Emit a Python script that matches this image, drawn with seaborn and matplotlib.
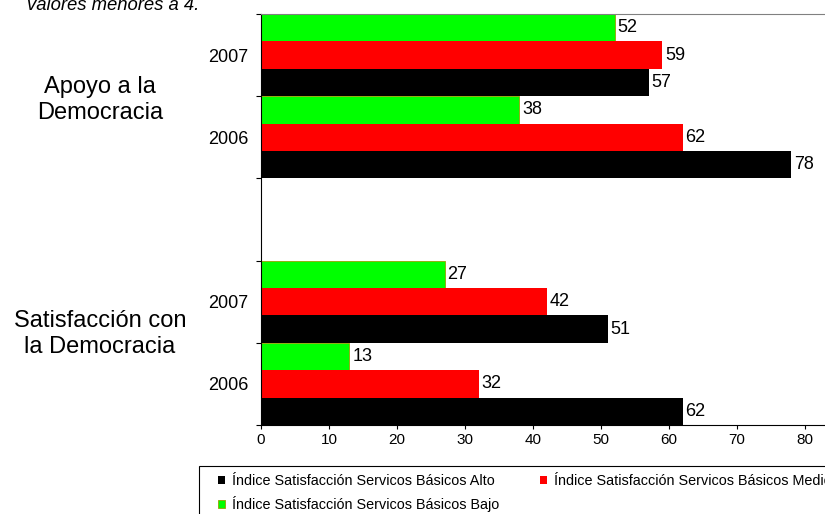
import matplotlib
matplotlib.use("Agg")
import matplotlib.pyplot as plt
from matplotlib.patches import Rectangle
import pandas as pd
import seaborn as sns

# rows of the category axis, top to bottom (one empty slot between the groups)
rows = ["Apoyo 2007", "Apoyo 2006", " ", "Satisfaccion 2007", "Satisfaccion 2006"]
row_labels = ["2007", "2006", "", "2007", "2006"]
groups = ["Apoyo a la\nDemocracia", "Satisfacción con\nla Democracia"]

bajo = [52, 38, 27, 13]
medio = [59, 62, 42, 32]
alto = [57, 78, 51, 62]

levels = ["Índice Satisfacción Servicos Básicos Bajo",
          "Índice Satisfacción Servicos Básicos Medio",
          "Índice Satisfacción Servicos Básicos Alto"]
colors = ["#00ff00", "#ff0000", "#000000"]
note = "valores menores a 4."

plt.rcParams['font.family'] = ['Liberation Sans', 'DejaVu Sans']

keys = [r for r in rows if r.strip()]
df = pd.DataFrame({
    "fila": keys * 3,
    "nivel": [levels[0]] * 4 + [levels[1]] * 4 + [levels[2]] * 4,
    "valor": bajo + medio + alto,
})

W, H = 825, 514
fig = plt.figure(figsize=(W / 100, H / 100), dpi=100)
ax = fig.add_axes([261 / W, (H - 425) / H, 612 / W, 411 / H])

sns.barplot(data=df, x="valor", y="fila", hue="nivel", order=rows,
            hue_order=levels, palette=colors, width=1, gap=0, saturation=1,
            orient="h", legend=False, linewidth=0, ax=ax)

# thin olive outline on the green bars, as in the original
for bar in ax.containers[0]:
    bar.set_edgecolor("#99a000")
    bar.set_linewidth(0.6)

for cont in ax.containers:
    ax.bar_label(cont, padding=2, fontsize=13)

ax.set_xlim(0, 90)
ax.set_ylim(4.5, -0.5)
ax.set_xticks(range(0, 90, 10))
ax.tick_params(axis="x", labelsize=11, length=3, width=0.8, pad=3)
ax.set_yticks([-0.5, 0.5, 1.5, 2.5, 3.5, 4.5])
ax.set_yticklabels([])
ax.tick_params(axis="y", which="major", length=3.5, width=0.8)
ax.set_yticks([0, 1, 3, 4], minor=True)
ax.set_yticklabels([row_labels[i] for i in [0, 1, 3, 4]], minor=True)
ax.tick_params(axis="y", which="minor", length=0, labelsize=13, pad=9)
ax.set_xlabel("")
ax.set_ylabel("")

ax.spines["top"].set_color("#808080")
ax.spines["left"].set_color("black")
ax.spines["bottom"].set_color("black")
ax.spines["right"].set_visible(False)

fig.text(100 / W, 1 - 100 / H, groups[0], ha="center", va="center",
         fontsize=17)
fig.text(100 / W, 1 - 334 / H, groups[1], ha="center", va="center",
         fontsize=17)

fig.text(27 / W, 1 - 10 / H, note, ha="left", va="baseline", fontsize=13.3,
         style="italic")

# legend box runs past the right and bottom edge of the figure
fig.patches.append(Rectangle((199 / W, -0.1), 1.0, 0.1 + (H - 466) / H,
                             transform=fig.transFigure, fill=False,
                             edgecolor="black", linewidth=0.8))
handles = [ax.containers[2], ax.containers[0], ax.containers[1]]
labels = [levels[2], levels[0], levels[1]]
fig.legend(handles, labels, loc="upper left",
           bbox_to_anchor=(218 / W, 1 - 474 / H), frameon=False, ncol=2,
           fontsize=10.4, borderpad=0, borderaxespad=0, handlelength=0.5,
           handleheight=0.5, handletextpad=0.49, columnspacing=2.8,
           labelspacing=0.55)

fig.savefig("out.png", dpi=100)
